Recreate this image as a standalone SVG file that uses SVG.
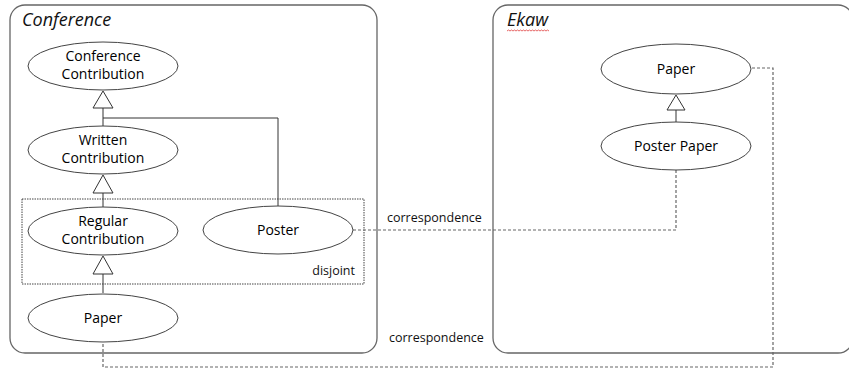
<svg xmlns="http://www.w3.org/2000/svg" width="849" height="369" viewBox="0 0 849 369">
<style>
.box{fill:none;stroke:#666;stroke-width:1.3}
.node ellipse{fill:#fff;stroke:#444;stroke-width:1}
.lbl{font-family:"Open Sans","Liberation Sans",sans-serif;font-size:14px;fill:#000;text-anchor:middle}
.title{font-family:"Open Sans","Liberation Sans",sans-serif;font-size:18px;font-style:italic;fill:#111}
.txt{font-family:"Open Sans","Liberation Sans",sans-serif;font-size:12.5px;fill:#111}
.line{fill:none;stroke:#333;stroke-width:1}
.dash{fill:none;stroke:#666;stroke-width:1.2;stroke-dasharray:3,2}
.tri{fill:#fff;stroke:#333;stroke-width:1}
</style>
<rect width="849" height="369" fill="#fff"/>
<g id="conference-box">
<rect class="box" x="10" y="5" width="367" height="348" rx="15"/>
<text class="title" x="22" y="26">Conference</text>
</g>
<g id="ekaw-box">
<rect class="box" x="493" y="5" width="360" height="348" rx="15"/>
<text class="title" x="507" y="26">Ekaw</text>
<path d="M507 31 l1.5 -1 1.5 1 1.5 -1 1.5 1 1.5 -1 1.5 1 1.5 -1 1.5 1 1.5 -1 1.5 1 1.5 -1 1.5 1 1.5 -1 1.5 1 1.5 -1 1.5 1 1.5 -1 1.5 1 1.5 -1 1.5 1 1.5 -1 1.5 1 1.5 -1 1.5 1 1.5 -1 1.5 1 1.5 -1 1.5 1" fill="none" stroke="#e04040" stroke-width="0.8"/>
</g>
<g id="disjoint">
<rect x="22" y="199" width="342" height="85" fill="none" stroke="#444" stroke-width="1" stroke-dasharray="1.5,1"/>
<text class="txt" x="355" y="275" text-anchor="end">disjoint</text>
</g>
<g id="connectors">
<path class="line" d="M103 108 V126"/>
<path class="line" d="M103 118 H278 V207"/>
<path class="line" d="M103 193 V207"/>
<path class="line" d="M103 274 V293"/>
<path class="line" d="M676 110 V122"/>
<polygon class="tri" points="103,91 93,108 113,108"/>
<polygon class="tri" points="103,175 93,193 113,193"/>
<polygon class="tri" points="103,256 93,274 113,274"/>
<polygon class="tri" points="676,95 667,110 685,110"/>
<path class="dash" d="M353 230 H676 V170"/>
<path class="dash" d="M752 68 H773 V367 H103 V342"/>
<text class="txt" x="387" y="222">correspondence</text>
<text class="txt" x="389" y="342">correspondence</text>
</g>
<g id="conference-contribution" class="node">
<ellipse cx="103" cy="66" rx="75" ry="24"/>
<text class="lbl" x="103" y="61">Conference</text>
<text class="lbl" x="103" y="79">Contribution</text>
</g>
<g id="written-contribution" class="node">
<ellipse cx="103" cy="150" rx="75" ry="24"/>
<text class="lbl" x="103" y="145">Written</text>
<text class="lbl" x="103" y="163">Contribution</text>
</g>
<g id="regular-contribution" class="node">
<ellipse cx="103" cy="231" rx="75" ry="24"/>
<text class="lbl" x="103" y="226">Regular</text>
<text class="lbl" x="103" y="244">Contribution</text>
</g>
<g id="poster" class="node">
<ellipse cx="278" cy="230" rx="75" ry="24"/>
<text class="lbl" x="278" y="235">Poster</text>
</g>
<g id="conference-paper" class="node">
<ellipse cx="103" cy="318" rx="75" ry="24"/>
<text class="lbl" x="103" y="323">Paper</text>
</g>
<g id="ekaw-paper" class="node">
<ellipse cx="676" cy="69" rx="75" ry="25"/>
<text class="lbl" x="676" y="74">Paper</text>
</g>
<g id="poster-paper" class="node">
<ellipse cx="676" cy="146" rx="75" ry="24"/>
<text class="lbl" x="676" y="151">Poster Paper</text>
</g>
</svg>
